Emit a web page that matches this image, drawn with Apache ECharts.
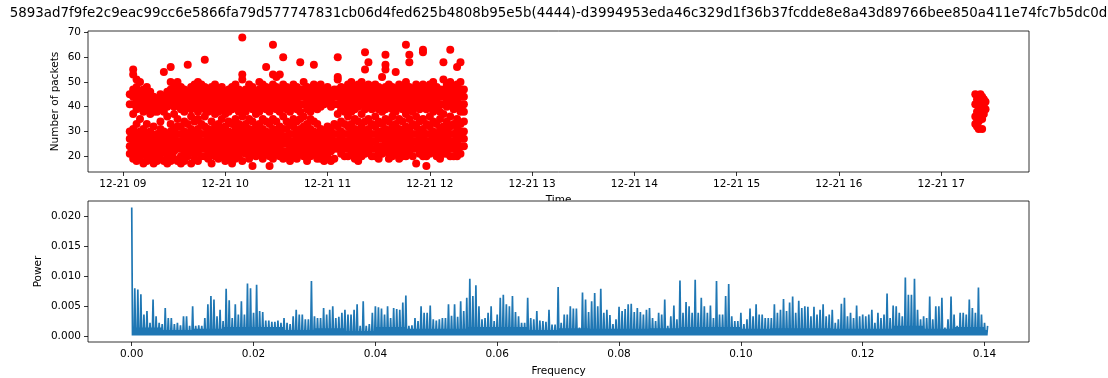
<!DOCTYPE html>
<html>
<head>
<meta charset="utf-8">
<script src="https://cdn.jsdelivr.net/npm/echarts@6/dist/echarts.min.js"></script>
<style>
html, body { margin: 0; padding: 0; background: #fff; }
#chart { width: 1108px; height: 378px; }
</style>
</head>
<body>
<div id="chart"></div>
<script>
// Flow identifier shown as the figure title
const titleText = '5893ad7f9fe2c9eac99cc6e5866fa79d577747831cb06d4fed625b4808b95e5b(4444)-d3994953eda46c329d1f36b37fcdde8e8a43d89766bee850a411e74fc7b5dc0d';

// Packet counts per sample, grouped by minute after 09:00 on 12-21
const packetMinutes = [4, 6, 8, 10, 12, 14, 16, 18, 20, 22, 24, 26, 28, 30, 32, 34, 36, 38, 40, 42,
  44, 46, 48, 50, 52, 54, 56, 58, 60, 62, 64, 66, 68, 70, 72, 74, 76, 78, 80, 82,
  84, 86, 88, 90, 92, 94, 96, 98, 100, 102, 104, 106, 108, 110, 112, 114, 116, 118, 120, 122,
  124, 126, 128, 130, 132, 134, 136, 138, 140, 142, 144, 146, 148, 150, 152, 154, 156, 158, 160, 162,
  164, 166, 168, 170, 172, 174, 176, 178, 180, 182, 184, 186, 188, 190, 192, 194, 196, 198, 200];
const packetCounts = [
  [41, 45, 30, 27, 24, 21],
  [55, 53, 47, 44, 41, 37, 31, 28, 25, 22, 19],
  [51, 48, 45, 42, 39, 33, 29, 26, 23, 20, 18],
  [50, 46, 43, 40, 35, 30, 27, 24, 21, 19],
  [47, 44, 41, 38, 31, 28, 25, 22, 17],
  [48, 45, 42, 39, 33, 29, 26, 23, 20, 18],
  [46, 43, 40, 37, 30, 27, 24, 21, 19],
  [44, 41, 38, 32, 28, 25, 22, 19, 17],
  [43, 40, 38, 29, 26, 23, 20, 18],
  [45, 42, 39, 34, 31, 28, 24, 21, 19],
  [54, 44, 41, 38, 30, 27, 25, 22, 18],
  [46, 43, 40, 36, 29, 26, 23, 20, 17],
  [56, 50, 47, 44, 41, 33, 30, 27, 24, 21, 18],
  [49, 46, 43, 40, 37, 31, 28, 25, 22, 19],
  [50, 47, 44, 41, 35, 32, 29, 26, 23, 18],
  [48, 45, 42, 39, 32, 29, 26, 23, 20, 17],
  [47, 44, 41, 38, 34, 30, 27, 24, 21, 18],
  [57, 46, 43, 40, 33, 29, 26, 23, 20],
  [48, 45, 42, 39, 36, 31, 28, 25, 22, 17],
  [49, 46, 43, 40, 34, 30, 27, 24, 21, 19],
  [50, 47, 44, 41, 38, 35, 31, 28, 25, 22, 18],
  [49, 46, 43, 40, 33, 29, 26, 23, 20],
  [59, 48, 45, 42, 39, 36, 32, 29, 26, 23, 20],
  [47, 44, 41, 38, 31, 28, 25, 22, 19],
  [48, 45, 42, 39, 34, 30, 27, 24, 21, 17],
  [49, 46, 43, 40, 37, 32, 29, 26, 23, 20],
  [47, 44, 41, 38, 33, 30, 27, 24, 21, 19],
  [48, 45, 42, 39, 35, 31, 28, 25, 22, 20],
  [46, 43, 40, 37, 32, 29, 26, 23, 20, 18],
  [47, 44, 41, 38, 34, 30, 27, 24, 21, 19],
  [48, 45, 42, 39, 33, 29, 26, 23, 20, 17],
  [49, 46, 43, 40, 35, 31, 28, 25, 22, 19],
  [47, 44, 41, 38, 33, 30, 27, 24, 21, 20],
  [68, 53, 51, 46, 43, 40, 36, 32, 29, 26, 23, 18],
  [47, 44, 41, 38, 33, 30, 27, 24, 21],
  [49, 46, 43, 40, 35, 31, 28, 25, 22, 19],
  [48, 45, 42, 39, 34, 30, 27, 24, 21, 16],
  [46, 43, 40, 37, 32, 29, 26, 23, 20],
  [50, 47, 44, 41, 38, 33, 30, 27, 24, 21],
  [49, 46, 43, 40, 35, 31, 28, 25, 22, 19],
  [56, 48, 45, 42, 39, 34, 30, 27, 24, 21],
  [47, 44, 41, 38, 33, 29, 26, 23, 20, 16],
  [65, 53, 49, 46, 43, 40, 35, 31, 28, 25, 22, 19],
  [52, 48, 45, 42, 39, 34, 30, 27, 24, 21],
  [53, 47, 44, 41, 38, 32, 29, 26, 23, 20],
  [60, 49, 46, 43, 40, 36, 31, 28, 25, 22, 19],
  [48, 45, 42, 39, 34, 31, 28, 25, 22, 20],
  [47, 44, 41, 38, 33, 29, 26, 23, 20, 18],
  [49, 46, 43, 40, 35, 32, 29, 26, 23, 21],
  [48, 45, 42, 39, 34, 30, 27, 24, 21, 19],
  [58, 47, 44, 41, 38, 35, 31, 28, 25, 22],
  [50, 47, 44, 41, 36, 32, 29, 26, 23, 20],
  [48, 45, 42, 39, 33, 30, 27, 24, 21, 18],
  [47, 44, 41, 38, 35, 31, 28, 25, 22, 20],
  [57, 49, 46, 43, 40, 34, 30, 27, 24, 21],
  [48, 45, 42, 39, 33, 29, 26, 23, 20, 19],
  [49, 46, 43, 40, 31, 28, 25, 22, 19],
  [47, 44, 41, 30, 27, 24, 21, 18],
  [48, 45, 42, 32, 29, 26, 23, 20],
  [46, 43, 40, 31, 28, 25, 22, 18],
  [47, 44, 41, 33, 29, 26, 23, 19],
  [60, 52, 51, 47, 44, 41, 37, 32, 29, 26, 23],
  [48, 45, 42, 39, 34, 30, 27, 24, 21],
  [47, 44, 41, 38, 33, 29, 26, 23, 20],
  [49, 46, 43, 40, 36, 32, 29, 26, 23, 20],
  [50, 47, 44, 41, 38, 33, 30, 27, 24, 21],
  [48, 45, 42, 39, 35, 31, 28, 25, 22, 19],
  [49, 46, 43, 40, 34, 30, 27, 24, 21, 18],
  [50, 47, 44, 41, 37, 32, 29, 26, 23, 20],
  [62, 55, 48, 45, 42, 39, 34, 30, 27, 24, 21],
  [58, 49, 46, 43, 40, 35, 31, 28, 25, 22],
  [48, 45, 42, 39, 33, 29, 26, 23, 20],
  [49, 46, 43, 40, 36, 32, 29, 26, 23, 20],
  [48, 45, 42, 39, 34, 30, 27, 24, 21, 19],
  [52, 47, 44, 41, 38, 33, 30, 27, 24, 21],
  [61, 57, 55, 48, 45, 42, 39, 35, 31, 28, 25, 22],
  [49, 46, 43, 40, 34, 30, 27, 24, 21, 19],
  [48, 45, 42, 39, 36, 32, 29, 26, 23, 20],
  [54, 47, 44, 41, 38, 33, 30, 27, 24, 21],
  [49, 46, 43, 40, 35, 31, 28, 25, 22, 19],
  [48, 45, 42, 39, 34, 30, 27, 24, 21, 20],
  [65, 50, 47, 44, 41, 37, 32, 29, 26, 23, 20],
  [61, 58, 48, 45, 42, 39, 35, 31, 28, 25, 22],
  [47, 44, 41, 38, 33, 29, 26, 23, 20],
  [49, 46, 43, 40, 36, 32, 29, 26, 23, 17],
  [48, 45, 42, 39, 34, 30, 27, 24, 21],
  [63, 62, 49, 46, 43, 40, 35, 31, 28, 25, 22, 20],
  [48, 45, 42, 39, 33, 29, 26, 23, 20, 16],
  [49, 46, 43, 40, 36, 32, 29, 26, 23, 21],
  [50, 47, 44, 41, 38, 34, 30, 27, 24, 22],
  [48, 45, 42, 39, 33, 29, 26, 23, 20],
  [47, 44, 41, 38, 35, 31, 28, 25, 22, 19],
  [58, 51, 47, 44, 41, 37, 32, 29, 26, 23, 21],
  [49, 46, 43, 40, 34, 30, 27, 24, 21],
  [63, 50, 47, 44, 41, 36, 32, 29, 26, 23, 20],
  [48, 45, 42, 39, 33, 29, 26, 23, 20],
  [56, 49, 46, 43, 40, 35, 31, 28, 25, 22, 20],
  [58, 50, 47, 44, 41, 38, 33, 30, 27, 24, 21],
  [47, 44, 41, 38, 34, 30, 27, 24]
];

// Second, short burst in the late afternoon
const lateMinutes = [500, 501, 502, 503, 504, 505, 506];
const lateCounts = [
  [45, 41, 36, 33],
  [43, 38, 35, 32],
  [44, 40, 37, 34, 31],
  [45, 42, 39, 36],
  [44, 41, 38, 35, 31],
  [43, 40, 37],
  [42, 39]
];

const hourTicks = [0, 60, 120, 180, 240, 300, 360, 420, 480];
const packetTicks = [20, 30, 40, 50, 60, 70];

// Power spectrum (units of 1e-4): peak per frequency bin of freqStep from 0,
// and the level of the dense band per 0.005-wide stretch
const freqStep = 0.0005;
const bandStep = 0.005;
const powerUnit = 1e-4;
const powerFloor = 1;
const powerPeaks = [
  215, 80, 78, 70, 36, 42, 22, 61, 33, 22, 20, 47, 30, 30, 20, 22, 18, 33, 33, 17,
  50, 17, 18, 17, 30, 53, 67, 61, 33, 44, 25, 79, 60, 30, 53, 36, 58, 36, 88, 80,
  39, 86, 42, 40, 26, 26, 24, 24, 26, 22, 30, 22, 20, 33, 44, 36, 36, 28, 28, 92,
  33, 30, 30, 47, 36, 44, 50, 30, 32, 39, 44, 36, 36, 44, 53, 17, 58, 17, 20, 39,
  50, 48, 46, 36, 50, 30, 47, 45, 44, 56, 68, 17, 18, 30, 25, 50, 39, 39, 51, 28,
  26, 28, 30, 30, 53, 34, 53, 32, 58, 42, 64, 96, 67, 85, 50, 28, 30, 39, 50, 25,
  36, 64, 69, 53, 50, 67, 40, 33, 22, 22, 64, 30, 28, 42, 26, 25, 24, 44, 19, 19,
  82, 22, 36, 36, 50, 46, 46, 14, 73, 61, 40, 58, 72, 50, 79, 39, 44, 35, 20, 28,
  49, 42, 45, 53, 54, 40, 47, 40, 36, 44, 47, 30, 25, 39, 36, 61, 17, 33, 51, 28,
  93, 39, 57, 50, 39, 94, 39, 64, 50, 39, 51, 30, 92, 36, 36, 67, 87, 33, 25, 25,
  39, 20, 28, 46, 33, 53, 36, 36, 30, 30, 30, 53, 39, 44, 62, 42, 56, 66, 39, 59,
  47, 50, 49, 33, 49, 36, 44, 53, 33, 36, 44, 22, 28, 54, 64, 33, 39, 30, 51, 33,
  36, 33, 36, 44, 22, 39, 30, 36, 71, 30, 51, 50, 39, 33, 98, 69, 69, 96, 44, 28,
  33, 30, 66, 28, 50, 50, 64, 14, 28, 66, 36, 17, 39, 39, 36, 61, 47, 39, 81, 36,
  22, 17
];
const powerBand = [14, 10, 12, 15, 15, 10, 13, 8, 15, 12, 12, 15, 15, 10, 13, 12, 12, 13, 15, 15,
  12, 13, 13, 12, 12, 17, 12, 15, 10];
const freqTicks = [0, 0.02, 0.04, 0.06, 0.08, 0.1, 0.12, 0.14];
const powerTicks = [0, 0.005, 0.01, 0.015, 0.02];

// Scatter points from the grouped counts
const packetPoints = [];
packetMinutes.forEach((m, i) => packetCounts[i].forEach(v => packetPoints.push([m, v])));
lateMinutes.forEach((m, i) => lateCounts[i].forEach(v => packetPoints.push([m, v])));

// Spectrum trace: in every bin the curve reaches its peak, drops to the floor,
// comes back up to the band level and drops again
const spectrum = [];
powerPeaks.forEach((p, i) => {
  const f = i * freqStep;
  spectrum.push([f, p * powerUnit]);
  if (i === powerPeaks.length - 1) return;
  const band = powerBand[Math.floor(f / bandStep + 1e-9)];
  spectrum.push([f + freqStep / 4, powerFloor * powerUnit]);
  spectrum.push([f + freqStep / 2, band * powerUnit]);
  spectrum.push([f + 3 * freqStep / 4, powerFloor * powerUnit]);
});

const FONT = 'DejaVu Sans';
const labelStyle = { color: '#000', fontFamily: FONT, fontSize: 10.5 };
const tickStyle = { show: true, length: 4, lineStyle: { color: '#000', width: 0.8 } };
const noLine = { show: false, onZero: false };

const L = 88, R = 1108 - 1029;

const chart = echarts.init(document.getElementById('chart'), null, { renderer: 'canvas' });
chart.setOption({
  animation: false,
  backgroundColor: '#fff',
  grid: [
    { left: L, right: R, top: 31, height: 141, show: true, borderColor: '#000', borderWidth: 0.8, backgroundColor: 'transparent' },
    { left: L, right: R, top: 201, height: 141, show: true, borderColor: '#000', borderWidth: 0.8, backgroundColor: 'transparent', z: 2 }
  ],
  xAxis: [
    {
      type: 'value', gridIndex: 0, min: -20.5, max: 531.5, position: 'bottom',
      axisLine: noLine, splitLine: { show: false },
      axisTick: Object.assign({ customValues: hourTicks }, tickStyle),
      axisLabel: Object.assign({
        customValues: hourTicks, margin: 7,
        formatter: v => '12-21 ' + String(9 + Math.round(v / 60)).padStart(2, '0')
      }, labelStyle),
      name: 'Time', nameLocation: 'middle', nameGap: 23, nameMoveOverlap: false,
      nameTextStyle: labelStyle
    },
    {
      type: 'value', gridIndex: 1, min: -0.00718, max: 0.1473, position: 'bottom',
      axisLine: noLine, splitLine: { show: false },
      axisTick: Object.assign({ customValues: freqTicks }, tickStyle),
      axisLabel: Object.assign({ customValues: freqTicks, margin: 7, formatter: v => v.toFixed(2) }, labelStyle),
      name: 'Frequency', nameLocation: 'middle', nameGap: 24, nameMoveOverlap: false,
      nameTextStyle: labelStyle
    }
  ],
  yAxis: [
    {
      type: 'value', gridIndex: 0, min: 13.6, max: 70.6, position: 'left',
      axisLine: noLine, splitLine: { show: false },
      axisTick: Object.assign({ customValues: packetTicks }, tickStyle),
      axisLabel: Object.assign({ customValues: packetTicks, margin: 7, formatter: v => String(v) }, labelStyle),
      name: 'Number of packets', nameLocation: 'middle', nameGap: 27, nameMoveOverlap: false,
      nameTextStyle: labelStyle
    },
    {
      type: 'value', gridIndex: 1, min: -0.001, max: 0.0226, position: 'left',
      axisLine: noLine, splitLine: { show: false },
      axisTick: Object.assign({ customValues: powerTicks }, tickStyle),
      axisLabel: Object.assign({ customValues: powerTicks, margin: 7, formatter: v => v.toFixed(3) }, labelStyle),
      name: 'Power', nameLocation: 'middle', nameGap: 44, nameMoveOverlap: false,
      nameTextStyle: labelStyle
    }
  ],
  graphic: [
    {
      type: 'text', x: 558.5, y: 14, z: 10,
      style: { text: titleText, fill: '#000', font: '13.4px "DejaVu Sans"', align: 'center', verticalAlign: 'middle' }
    },
    {
      // the lower panel sits on top of the upper panel's axis title
      type: 'rect', z: 1, silent: true,
      shape: { x: L, y: 201, width: 1029 - L, height: 141 },
      style: { fill: '#fff' }
    }
  ],
  series: [
    {
      type: 'scatter', xAxisIndex: 0, yAxisIndex: 0,
      data: packetPoints, symbolSize: 8,
      itemStyle: { color: '#ff0000', opacity: 1 }
    },
    {
      type: 'line', xAxisIndex: 1, yAxisIndex: 1, z: 3,
      data: spectrum, showSymbol: false, symbol: 'none',
      lineStyle: { color: '#1f77b4', width: 1.7 }
    }
  ]
});
</script>
</body>
</html>
